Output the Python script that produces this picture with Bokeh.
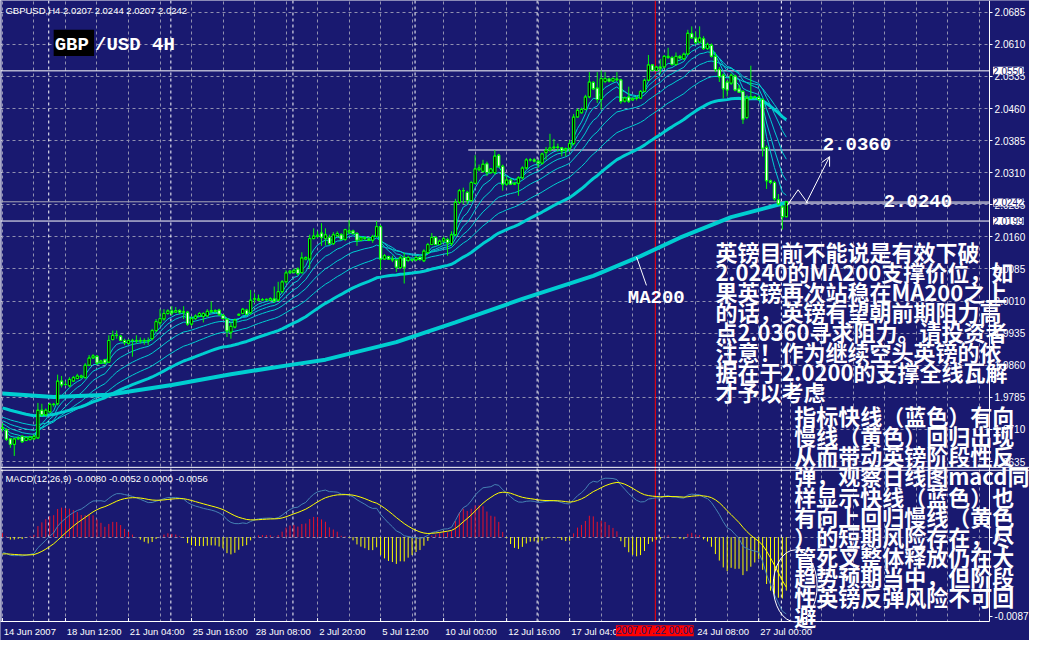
from bokeh.plotting import figure
from bokeh.models import (Range1d, FixedTicker, NumeralTickFormatter, Label, LinearAxis,
                          Arrow, OpenHead, ColumnDataSource)
from bokeh.embed import file_html
from bokeh.resources import INLINE

# ---------------- data (GBPUSD H4) ----------------
opens = [1.9713, 1.9709, 1.9688, 1.9675, 1.9688, 1.9694, 1.9684, 1.9686, 1.9688, 1.9690,
         1.9755, 1.9744, 1.9751, 1.9768, 1.9770, 1.9823, 1.9815, 1.9812, 1.9823, 1.9829,
         1.9832, 1.9831, 1.9860, 1.9877, 1.9881, 1.9865, 1.9873, 1.9867, 1.9920, 1.9930,
         1.9928, 1.9918, 1.9911, 1.9918, 1.9918, 1.9917, 1.9918, 1.9917, 1.9922, 1.9941,
         1.9959, 1.9968, 1.9981, 1.9987, 1.9984, 1.9988, 1.9984, 1.9984, 1.9956, 1.9969,
         1.9975, 1.9974, 1.9975, 1.9985, 1.9988, 1.9989, 1.9977, 1.9968, 1.9937, 1.9949,
         1.9977, 1.9981, 1.9989, 1.9983, 2.0015, 2.0012, 2.0013, 2.0013, 2.0012, 2.0015,
         2.0012, 2.0032, 2.0055, 2.0076, 2.0077, 2.0085, 2.0076, 2.0108, 2.0108, 2.0156,
         2.0161, 2.0169, 2.0156, 2.0159, 2.0144, 2.0163, 2.0165, 2.0154, 2.0171, 2.0174,
         2.0168, 2.0152, 2.0156, 2.0155, 2.0152, 2.0161, 2.0184, 2.0108, 2.0114, 2.0108,
         2.0106, 2.0088, 2.0112, 2.0105, 2.0106, 2.0106, 2.0112, 2.0104, 2.0123, 2.0142,
         2.0159, 2.0142, 2.0150, 2.0154, 2.0144, 2.0165, 2.0241, 2.0268, 2.0264, 2.0245,
         2.0285, 2.0317, 2.0313, 2.0331, 2.0310, 2.0310, 2.0351, 2.0325, 2.0283, 2.0293,
         2.0283, 2.0285, 2.0298, 2.0321, 2.0340, 2.0340, 2.0337, 2.0332, 2.0357, 2.0363,
         2.0368, 2.0370, 2.0368, 2.0363, 2.0367, 2.0378, 2.0440, 2.0450, 2.0458, 2.0487,
         2.0521, 2.0508, 2.0481, 2.0523, 2.0529, 2.0524, 2.0527, 2.0527, 2.0477, 2.0487,
         2.0480, 2.0484, 2.0484, 2.0500, 2.0526, 2.0562, 2.0549, 2.0557, 2.0557, 2.0579,
         2.0579, 2.0563, 2.0582, 2.0576, 2.0587, 2.0635, 2.0625, 2.0615, 2.0623, 2.0600,
         2.0608, 2.0582, 2.0551, 2.0538, 2.0522, 2.0519, 2.0536, 2.0506, 2.0500, 2.0439,
         2.0484, 2.0487, 2.0486, 2.0481, 2.0369, 2.0291, 2.0287, 2.0247, 2.0230, 2.0207]
highs = [1.9724, 1.9713, 1.9690, 1.9690, 1.9694, 1.9696, 1.9694, 1.9695, 1.9698, 1.9772,
         1.9770, 1.9759, 1.9772, 1.9772, 1.9838, 1.9835, 1.9822, 1.9832, 1.9835, 1.9840,
         1.9838, 1.9865, 1.9884, 1.9886, 1.9884, 1.9873, 1.9875, 1.9930, 1.9941, 1.9941,
         1.9931, 1.9922, 1.9921, 1.9922, 1.9930, 1.9925, 1.9923, 1.9925, 1.9945, 1.9968,
         1.9991, 1.9991, 1.9991, 1.9998, 1.9996, 1.9991, 1.9998, 1.9987, 1.9975, 1.9979,
         1.9984, 1.9984, 1.9991, 2.0009, 1.9991, 1.9992, 1.9979, 1.9969, 1.9960, 1.9969,
         1.9981, 1.9994, 1.9992, 2.0036, 2.0028, 2.0025, 2.0017, 2.0016, 2.0019, 2.0044,
         2.0055, 2.0059, 2.0082, 2.0083, 2.0086, 2.0089, 2.0124, 2.0114, 2.0165, 2.0180,
         2.0173, 2.0192, 2.0180, 2.0165, 2.0171, 2.0173, 2.0169, 2.0179, 2.0199, 2.0177,
         2.0171, 2.0161, 2.0161, 2.0159, 2.0165, 2.0197, 2.0188, 2.0120, 2.0116, 2.0116,
         2.0108, 2.0116, 2.0123, 2.0116, 2.0110, 2.0116, 2.0115, 2.0131, 2.0146, 2.0169,
         2.0161, 2.0154, 2.0161, 2.0158, 2.0173, 2.0249, 2.0272, 2.0275, 2.0268, 2.0291,
         2.0351, 2.0329, 2.0340, 2.0336, 2.0321, 2.0363, 2.0354, 2.0329, 2.0302, 2.0296,
         2.0288, 2.0302, 2.0325, 2.0344, 2.0344, 2.0344, 2.0340, 2.0357, 2.0370, 2.0401,
         2.0389, 2.0378, 2.0370, 2.0369, 2.0386, 2.0447, 2.0460, 2.0462, 2.0492, 2.0545,
         2.0524, 2.0545, 2.0549, 2.0545, 2.0532, 2.0533, 2.0545, 2.0530, 2.0488, 2.0511,
         2.0486, 2.0488, 2.0503, 2.0530, 2.0585, 2.0564, 2.0560, 2.0576, 2.0585, 2.0602,
         2.0583, 2.0591, 2.0585, 2.0591, 2.0644, 2.0652, 2.0640, 2.0652, 2.0629, 2.0614,
         2.0612, 2.0591, 2.0557, 2.0542, 2.0526, 2.0542, 2.0539, 2.0515, 2.0503, 2.0492,
         2.0560, 2.0490, 2.0490, 2.0484, 2.0374, 2.0294, 2.0291, 2.0260, 2.0234, 2.0244]
lows = [1.9705, 1.9683, 1.9667, 1.9648, 1.9685, 1.9679, 1.9683, 1.9685, 1.9685, 1.9688,
        1.9740, 1.9741, 1.9749, 1.9763, 1.9766, 1.9808, 1.9812, 1.9808, 1.9822, 1.9827,
        1.9829, 1.9829, 1.9858, 1.9875, 1.9861, 1.9863, 1.9862, 1.9865, 1.9918, 1.9922,
        1.9916, 1.9907, 1.9908, 1.9880, 1.9911, 1.9911, 1.9908, 1.9907, 1.9918, 1.9937,
        1.9953, 1.9964, 1.9978, 1.9977, 1.9983, 1.9979, 1.9968, 1.9952, 1.9952, 1.9966,
        1.9973, 1.9960, 1.9974, 1.9983, 1.9983, 1.9975, 1.9968, 1.9926, 1.9922, 1.9946,
        1.9975, 1.9979, 1.9977, 1.9979, 2.0006, 2.0010, 2.0010, 2.0010, 2.0010, 2.0006,
        2.0010, 2.0028, 2.0051, 2.0073, 2.0074, 2.0070, 2.0076, 2.0105, 2.0085, 2.0154,
        2.0158, 2.0139, 2.0140, 2.0141, 2.0141, 2.0159, 2.0152, 2.0150, 2.0167, 2.0165,
        2.0139, 2.0150, 2.0152, 2.0150, 2.0146, 2.0159, 2.0082, 2.0106, 2.0106, 2.0101,
        2.0078, 2.0085, 2.0051, 2.0101, 2.0102, 2.0103, 2.0104, 2.0101, 2.0120, 2.0141,
        2.0141, 2.0141, 2.0146, 2.0116, 2.0139, 2.0161, 2.0237, 2.0237, 2.0237, 2.0241,
        2.0283, 2.0313, 2.0310, 2.0302, 2.0308, 2.0306, 2.0321, 2.0268, 2.0279, 2.0281,
        2.0281, 2.0256, 2.0294, 2.0317, 2.0336, 2.0334, 2.0321, 2.0329, 2.0340, 2.0359,
        2.0363, 2.0359, 2.0348, 2.0348, 2.0359, 2.0374, 2.0439, 2.0448, 2.0456, 2.0484,
        2.0503, 2.0473, 2.0458, 2.0519, 2.0521, 2.0523, 2.0524, 2.0471, 2.0474, 2.0473,
        2.0478, 2.0479, 2.0483, 2.0498, 2.0524, 2.0547, 2.0547, 2.0541, 2.0554, 2.0576,
        2.0560, 2.0560, 2.0576, 2.0574, 2.0585, 2.0623, 2.0610, 2.0612, 2.0597, 2.0597,
        2.0579, 2.0545, 2.0522, 2.0484, 2.0488, 2.0515, 2.0500, 2.0496, 2.0424, 2.0435,
        2.0483, 2.0483, 2.0478, 2.0348, 2.0272, 2.0283, 2.0245, 2.0234, 2.0177, 2.0207]
closes = [1.9714, 1.9687, 1.9675, 1.9688, 1.9690, 1.9681, 1.9691, 1.9692, 1.9694, 1.9755,
          1.9744, 1.9755, 1.9769, 1.9769, 1.9823, 1.9814, 1.9815, 1.9827, 1.9831, 1.9835,
          1.9835, 1.9860, 1.9877, 1.9882, 1.9865, 1.9870, 1.9865, 1.9918, 1.9930, 1.9930,
          1.9918, 1.9913, 1.9918, 1.9918, 1.9917, 1.9918, 1.9917, 1.9918, 1.9941, 1.9962,
          1.9969, 1.9981, 1.9987, 1.9982, 1.9988, 1.9984, 1.9985, 1.9956, 1.9969, 1.9975,
          1.9981, 1.9981, 1.9986, 1.9988, 1.9986, 1.9979, 1.9969, 1.9940, 1.9951, 1.9966,
          1.9979, 1.9991, 1.9979, 2.0012, 2.0015, 2.0015, 2.0013, 2.0014, 2.0016, 2.0010,
          2.0032, 2.0055, 2.0076, 2.0080, 2.0082, 2.0074, 2.0111, 2.0112, 2.0156, 2.0162,
          2.0164, 2.0159, 2.0165, 2.0144, 2.0165, 2.0168, 2.0154, 2.0177, 2.0174, 2.0168,
          2.0152, 2.0158, 2.0158, 2.0152, 2.0161, 2.0184, 2.0108, 2.0116, 2.0108, 2.0106,
          2.0089, 2.0111, 2.0089, 2.0112, 2.0106, 2.0112, 2.0107, 2.0127, 2.0142, 2.0159,
          2.0142, 2.0150, 2.0156, 2.0146, 2.0165, 2.0241, 2.0268, 2.0268, 2.0245, 2.0287,
          2.0319, 2.0321, 2.0330, 2.0310, 2.0319, 2.0349, 2.0325, 2.0283, 2.0293, 2.0283,
          2.0285, 2.0298, 2.0321, 2.0340, 2.0340, 2.0337, 2.0332, 2.0354, 2.0363, 2.0368,
          2.0370, 2.0369, 2.0361, 2.0366, 2.0378, 2.0440, 2.0456, 2.0458, 2.0487, 2.0522,
          2.0506, 2.0481, 2.0530, 2.0530, 2.0524, 2.0530, 2.0529, 2.0476, 2.0485, 2.0477,
          2.0483, 2.0484, 2.0500, 2.0526, 2.0562, 2.0549, 2.0557, 2.0554, 2.0582, 2.0582,
          2.0563, 2.0582, 2.0578, 2.0587, 2.0636, 2.0625, 2.0614, 2.0625, 2.0600, 2.0610,
          2.0582, 2.0551, 2.0534, 2.0506, 2.0503, 2.0538, 2.0503, 2.0498, 2.0435, 2.0484,
          2.0487, 2.0486, 2.0481, 2.0367, 2.0291, 2.0287, 2.0249, 2.0237, 2.0207, 2.0242]

# MA200 (bar index, value)
ma200_bars = [0, 13, 27, 33, 43, 58, 74, 82, 100, 115, 132, 150, 162, 172, 185, 199]
ma200_vals = [1.9794, 1.9786, 1.9791, 1.9800, 1.9814, 1.9839, 1.9862, 1.9873, 1.9914,
              1.9960, 2.0015, 2.0069, 2.0115, 2.0158, 2.0206, 2.0240]

# moving-average ribbon: periods and the values each line starts from (read at bar 0)
ribbon_periods = [5, 8, 13, 21, 34]
ribbon_start = [1.9711, 1.9717, 1.9725, 1.9732, 1.9740]
slow_ma_period = 55
slow_ma_start = 1.9762
# MACD(12,26,9): starting values read at bar 0
macd_fast_start, macd_slow_start, macd_signal_start = 1.9722, 1.9738, -0.0018

price_ticks = [1.9635, 1.9710, 1.9785, 1.9860, 1.9935, 2.0010, 2.0085, 2.0160,
               2.0235, 2.0310, 2.0385, 2.0460, 2.0535, 2.0610, 2.0685]
xtick_bars = [0, 16, 32, 48, 64, 80, 96, 112, 128, 144, 176, 192]
xtick_labels = ["14 Jun 2007", "18 Jun 12:00", "21 Jun 04:00", "25 Jun 16:00",
                "28 Jun 08:00", "2 Jul 20:00", "5 Jul 12:00", "10 Jul 00:00",
                "12 Jul 16:00", "17 Jul 04:00", "24 Jul 08:00", "27 Jul 00:00"]
week_start_bars = [12, 43, 74, 105, 136, 167, 198]
marker_bar = 166            # vertical red line "2007.07.22 00:00"
marker_label = "2007.07.22 00:00"

line_high = 2.0548          # horizontal lines drawn on the chart
line_low = 2.0197
line_last = 2.0242
line_res = 2.0363
line_sup = 2.0239

header = "GBPUSD,H4  2.0207 2.0244 2.0207 2.0242"
macd_header = "MACD(12,26,9) -0.0080 -0.0052 0.0000 -0.0056"
note1 = ["英镑目前不能说是有效下破", "2.0240的MA200支撑价位，如", "果英镑再次站稳在MA200之上",
         "的话，英镑有望朝前期阻力高", "点2.0360寻求阻力。请投资者", "注意！作为继续空头英镑的依",
         "据在于2.0200的支撑全线瓦解", "才予以考虑"]
note2 = ["指标快线（蓝色）有向", "慢线（黄色）回归出现", "从而带动英镑阶段性反",
         "弹，观察日线图macd同", "样显示快线（蓝色）也", "有向上回归慢线（黄色",
         "）的短期风险存在，尽", "管死叉整体释放仍在大", "趋势预期当中，但阶段",
         "性英镑反弹风险不可回", "避"]

# ---------------- derived indicators ----------------
def ema(vals, period, start):
    a = 2.0 / (period + 1)
    e = start
    out = []
    for v in vals:
        e += a * (v - e)
        out.append(e)
    return out

n = len(closes)
bars = list(range(n))
ribbon = [ema(closes, per, s) for per, s in zip(ribbon_periods, ribbon_start)]
slow_ma = ema(closes, slow_ma_period, slow_ma_start)
fast = ema(closes, 12, macd_fast_start)
slow = ema(closes, 26, macd_slow_start)
macd_main = [f - s for f, s in zip(fast, slow)]
macd_sig = ema(macd_main, 9, macd_signal_start)
macd_hist = [2 * (m - s) for m, s in zip(macd_main, macd_sig)]

# ---------------- geometry helpers (reference pixel -> data) ----------------
BG = "#191970"
GRID = "#9090b0"
def X(px):
    return (px - 2) / 4.0
def Y(py):
    return 2.07124 - 0.000228 * py
def M(py):
    return (550 - py) / 9885.0

p = figure(width=1029, height=640, x_range=Range1d(X(0), X(1045)),
           y_range=Range1d(Y(656), Y(0)), output_backend="svg", toolbar_location=None,
           background_fill_color=BG, border_fill_color=BG,
           x_axis_location=None, y_axis_location=None, min_border=0)
p.extra_y_ranges = {"macd": Range1d(M(656), M(0))}
p.outline_line_color = None

# grids
p.xgrid.ticker = FixedTicker(ticks=list(range(0, 251, 8)))
p.ygrid.ticker = FixedTicker(ticks=price_ticks + [Y(550)])
for g in (p.xgrid[0], p.ygrid[0]):
    g.grid_line_color = GRID
    g.grid_line_dash = "3 3"
    g.grid_line_width = 1

# masks for the axis strips (keep grid lines inside the chart area)
p.quad(left=[X(1004.5)], right=[X(1045)], top=[Y(0)], bottom=[Y(656)], fill_color=BG,
       line_color=None)
p.quad(left=[X(0)], right=[X(1045)], top=[Y(637)], bottom=[Y(656)], fill_color=BG,
       line_color=None)

# axes (price axis on the right, time axis at the bottom)
yt_macd0 = round(Y(550), 6)
yt_macdmin = round(Y(631), 6)
yax = LinearAxis(fixed_location=X(1004.5), bounds=(Y(637), Y(0)),
                 ticker=FixedTicker(ticks=price_ticks + [yt_macd0, yt_macdmin]),
                 formatter=NumeralTickFormatter(format="0.0000"))
yax.major_label_overrides = {yt_macd0: "0", yt_macdmin: "-0.0087"}
p.add_layout(yax, "right")

def text_w(s):   # approximate rendered width (in bars) used to start labels at their tick
    w = 0.0
    for ch in s:
        w += 2.9 if ch in " :l" else (5.3 if ch == "J" else 5.6)
    return w * 0.95 / 4.0
label_pos = [b + text_w(t) / 2 + 0.3 for b, t in zip(xtick_bars, xtick_labels)]
xlab = LinearAxis(fixed_location=Y(637), bounds=(X(0), X(1004.5)),
                  ticker=FixedTicker(ticks=label_pos))
xlab.major_label_overrides = dict(zip(label_pos, xtick_labels))
xlab.axis_line_color = "white"
xlab.major_tick_line_color = None
p.add_layout(xlab, "below")

for ax in (yax, xlab):
    ax.minor_tick_line_color = None
    ax.major_label_text_color = "white"
    ax.major_label_text_font = "Liberation Sans"
yax.axis_line_color = "white"
yax.major_tick_line_color = "white"
yax.major_label_text_font_size = "10px"
yax.major_tick_in = 0
yax.major_tick_out = 3
yax.major_label_standoff = 2
xlab.major_label_text_font_size = "9.5px"
xlab.major_tick_in = 0
xlab.major_tick_out = 0
xlab.major_label_standoff = 4

# tick marks of the time axis (at the labelled bars)
p.segment(x0=xtick_bars, y0=[Y(637)] * len(xtick_bars), x1=xtick_bars,
          y1=[Y(633)] * len(xtick_bars), line_color="white", line_width=1)

# separators / marker lines
wx = [b - 0.25 for b in week_start_bars]
p.segment(x0=wx, y0=[Y(0)] * len(wx), x1=wx, y1=[Y(637)] * len(wx), line_color="white",
          line_dash="3 3", line_width=1)
p.segment(x0=[marker_bar - 0.25], y0=[Y(0)], x1=[marker_bar - 0.25], y1=[Y(637)],
          line_color="#ff0000", line_width=1)
p.segment(x0=[X(0.5)], y0=[Y(0)], x1=[X(0.5)], y1=[Y(637)], line_color="white", line_width=1)
p.segment(x0=[X(0)] * 2, y0=[Y(478.5), Y(481.5)], x1=[X(1045)] * 2, y1=[Y(478.5), Y(481.5)],
          line_color="white", line_width=1)
p.segment(x0=[X(0)] * 2, y0=[line_high, line_low], x1=[X(1004.5)] * 2,
          y1=[line_high, line_low], line_color="white", line_width=1)
p.segment(x0=[X(0)], y0=[line_last], x1=[X(1004.5)], y1=[line_last], line_color="#a8a8b8",
          line_width=1)
p.segment(x0=[X(475)], y0=[line_res], x1=[X(845)], y1=[line_res], line_color="white", line_width=1)
p.segment(x0=[X(790)], y0=[line_sup], x1=[X(1004.5)], y1=[line_sup], line_color="white",
          line_width=1)

# moving averages
CY = "#00ced1"
for r in ribbon:
    p.line(bars, r, line_color=CY, line_width=1)
p.line(bars, slow_ma, line_color=CY, line_width=3)
p.line(ma200_bars, ma200_vals, line_color=CY, line_width=4)

# candles
src = ColumnDataSource(dict(
    x=bars, o=opens, h=highs, l=lows, c=closes,
    top=[max(o, c) for o, c in zip(opens, closes)],
    bot=[min(o, c) for o, c in zip(opens, closes)],
    xl=[b - 0.3 for b in bars], xr=[b + 0.3 for b in bars],
    fill=["white" if c < o else "#000000" for o, c in zip(opens, closes)]))
p.segment(x0="x", y0="h", x1="x", y1="l", source=src, line_color="#00ff00", line_width=1)
p.vbar(x="x", width=0.6, top="top", bottom="bot", source=src,
       fill_color="fill", line_color="#00ff00", line_width=1)
p.segment(x0="xl", y0="c", x1="xr", y1="c", source=src, line_color="#00ff00", line_width=1)
p.segment(x0="xl", y0="o", x1="xr", y1="o", source=src, line_color="#00ff00", line_width=1)

# MACD
hsrc = ColumnDataSource(dict(x=bars, z=[0.0] * n, h=macd_hist,
                             col=["#e8102a" if v >= 0 else "#ffff00" for v in macd_hist]))
p.segment(x0="x", y0="z", x1="x", y1="h", source=hsrc, line_color="col", line_width=1,
          y_range_name="macd")
p.line(bars, macd_main, line_color="#4682b4", line_width=1, y_range_name="macd")
p.line(bars, macd_sig, line_color="#ffff00", line_width=1, y_range_name="macd")

# drawings
p.line([X(656), X(646)], [Y(292), Y(263)], line_color="white", line_width=1)
p.line([X(799), X(810), X(820)], [Y(210), Y(194), Y(208)], line_color="white", line_width=1)
p.add_layout(Arrow(end=OpenHead(size=9, line_color="white", line_width=1),
                   x_start=X(818), y_start=Y(208), x_end=X(842), y_end=Y(160),
                   line_color="white", line_width=1))
p.ellipse(x=[X(807)], y=[Y(600)], width=[44], height=[72], width_units="screen",
          height_units="screen", fill_color=None, line_color="white", line_width=1)
p.quad(left=[X(54)], right=[X(95)], top=[Y(30)], bottom=[Y(57)], fill_color="black",
       line_color=None)

def lab(px, py, text, size="11px", font="Liberation Sans", color="white", style="normal",
        align="left", bg=None):
    p.add_layout(Label(x=X(px), y=Y(py), text=text, text_font=font, text_font_size=size,
                       text_color=color, text_font_style=style, text_align=align,
                       text_baseline="middle", background_fill_color=bg))

lab(5, 10, header, size="9.5px")
lab(5, 490, macd_header, size="9.5px")
lab(55, 46, "GBP", size="19px", font="Liberation Mono", style="bold")
lab(96, 46, "/USD 4H", size="19px", font="Liberation Mono", style="bold")
lab(835, 147, "2.0360", size="19px", font="Liberation Mono", style="bold")
lab(897, 205, "2.0240", size="19px", font="Liberation Mono", style="bold")
lab(637, 305, "MA200", size="19px", font="Liberation Mono", style="bold")
for i, t in enumerate(note1):
    lab(726, 257 + 20.5 * i, t, size="22px", font="Noto Sans CJK SC", style="bold")
for i, t in enumerate(note2):
    lab(806, 425 + 20.6 * i, t, size="22px", font="Noto Sans CJK SC", style="bold")
lab(1008, 72, "2.0550", size="10px", color=BG, bg="white")
lab(1008, 207, "2.0242", size="10px", color=BG, bg="white")
lab(1008, 226, "2.0199", size="10px", color=BG, bg="white")
lab(664.5, 646, marker_label, size="10px", color=BG, bg="#ff0000", align="center")

open("out.html", "w").write(file_html(p, INLINE))
